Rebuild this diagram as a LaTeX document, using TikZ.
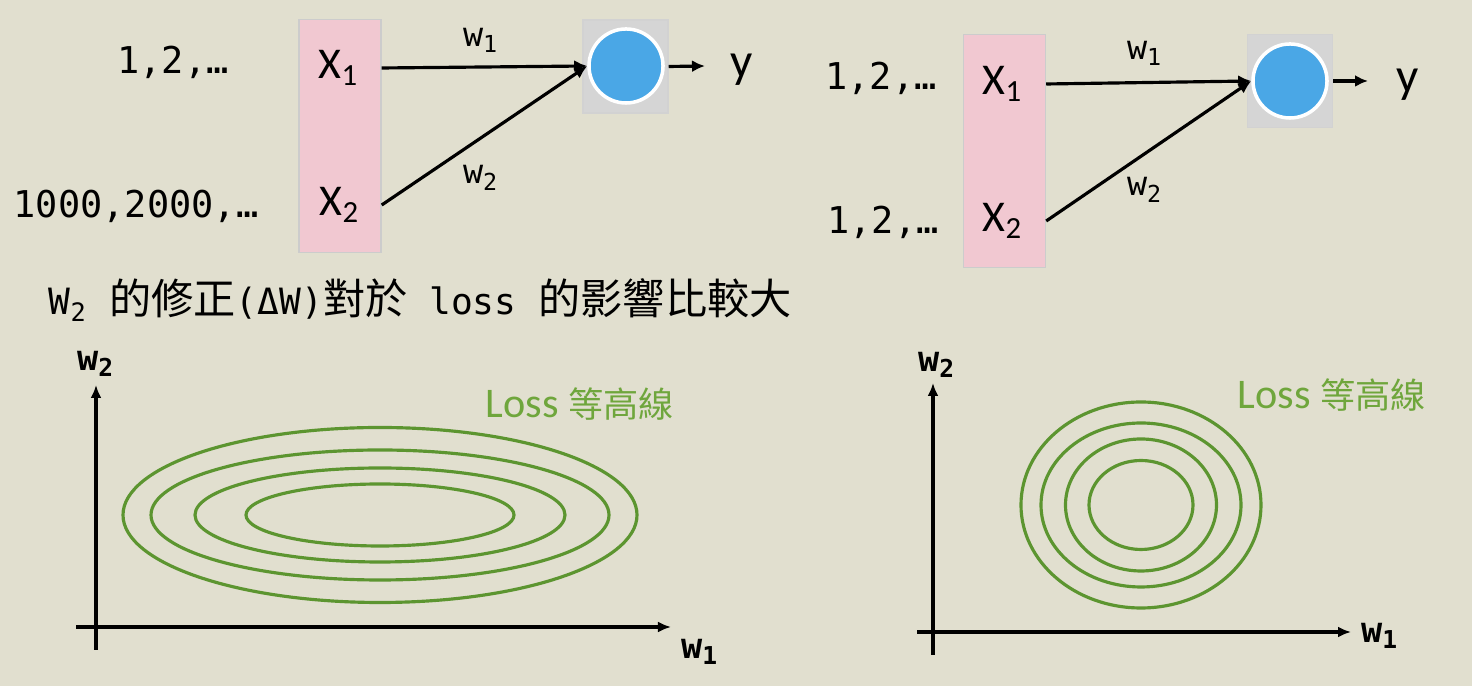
\documentclass[tikz,border=0pt]{standalone}
\usepackage{fontspec}
\setmainfont{Carlito}
\setmonofont{DejaVu Sans Mono}
\newfontfamily\cjk{Noto Sans CJK TC}
\usetikzlibrary{arrows.meta,positioning}
\definecolor{bgcol}{HTML}{E1DFCF}
\definecolor{pinkfill}{HTML}{F1C8D1}
\definecolor{cellgray}{HTML}{D5D5D5}
\definecolor{neuronblue}{HTML}{4AA7E6}
\definecolor{lossgreen}{HTML}{6FA63C}
\definecolor{contourgreen}{HTML}{5C9530}
\newcommand{\zh}[2][12]{{\cjk\fontsize{#1}{#1}\selectfont #2}}

\begin{document}
\begin{tikzpicture}[
    x=0.01cm, y=-0.01cm,
    inbox/.style={draw=gray!40, fill=pinkfill, minimum width=0.82cm, minimum height=2.33cm, inner sep=0pt},
    cell/.style={draw=gray!35, fill=cellgray, minimum width=0.85cm, minimum height=0.93cm, inner sep=0pt},
    neuron/.style={circle, draw=white, line width=1pt, fill=neuronblue, minimum size=0.74cm, inner sep=0pt},
    xlbl/.style={font=\fontsize{12.5}{14}\selectfont, inner sep=0pt},
    ylbl/.style={font=\fontsize{14}{16}\selectfont, inner sep=0pt},
    numlbl/.style={font=\ttfamily\fontsize{10.5}{12}\selectfont, inner sep=0pt},
    wlbl/.style={font=\ttfamily\fontsize{9.5}{11}\selectfont, inner sep=0pt},
    axlbl/.style={font=\ttfamily\bfseries\fontsize{10}{12}\selectfont, inner sep=0pt},
    losslbl/.style={text=lossgreen, font=\fontsize{12}{14}\selectfont, inner sep=0pt},
    arrow/.style={-{Latex[length=1.3mm,width=1.2mm]}, line width=0.9pt},
    axis/.style={-{Latex[length=1.3mm,width=1.1mm]}, line width=0.9pt},
    contour/.style={draw=contourgreen, line width=0.9pt}
]
\fill[bgcol] (0,0) rectangle (1472,686);

% left network
\node[inbox] (boxL) at (340,136) {};
\node[xlbl] (x1L) at (339,68) {X\textsubscript{1}};
\node[xlbl] (x2L) at (340,205) {X\textsubscript{2}};
\node[numlbl] (a1L) at (173,62) {1,2,…};
\node[numlbl] (a2L) at (136,206) {1000,2000,…};
\node[cell] (cellL) at (625.5,66.5) {};
\node[neuron] (nL) at (626,66) {};
\coordinate (outL) at (705,66);
\node[ylbl] (yL) at (742,70) {y};
\node[wlbl] (w1L) at (481,40) {w\textsubscript{1}};
\node[wlbl] (w2L) at (481,178) {w\textsubscript{2}};

\draw[arrow] (boxL.east |- x1L) -- (nL.west);
\draw[arrow] (boxL.east |- x2L) -- (nL.west);
\draw[arrow] (cellL.east) -- (outL);

% right network
\node[inbox] (boxR) at (1004.5,151) {};
\node[xlbl] (x1R) at (1003,84) {X\textsubscript{1}};
\node[xlbl] (x2R) at (1003,221) {X\textsubscript{2}};
\node[numlbl] (a1R) at (881,78) {1,2,…};
\node[numlbl] (a2R) at (883,222) {1,2,…};
\node[cell] (cellR) at (1290,81) {};
\node[neuron] (nR) at (1290,81) {};
\coordinate (outR) at (1368,81);
\node[ylbl] (yR) at (1408,85) {y};
\node[wlbl] (w1R) at (1145,53) {w\textsubscript{1}};
\node[wlbl] (w2R) at (1145,190) {w\textsubscript{2}};

\draw[arrow] (boxR.east |- x1R) -- (nR.west);
\draw[arrow] (boxR.east |- x2R) -- (nR.west);
\draw[arrow] (cellR.east) -- (outR);

\node[anchor=west, font=\ttfamily\fontsize{10.3}{12}\selectfont, inner sep=0pt] (title) at (48,300)
    {W\textsubscript{2} \zh{的修正}(ΔW)\zh{對於} loss \zh{的影響比較大}};

% contour plots
\draw[axis] (96,650) -- (96,385);
\draw[axis] (76,627) -- (671,627);
\node[axlbl] (w2axL) at (96,364) {w\textsubscript{2}};
\node[axlbl] (w1axL) at (700,652) {w\textsubscript{1}};
\node[losslbl] (lossL) at (580,404) {Loss \zh[10]{等高線}};
\foreach \rx/\ry in {257/87.5, 229/65, 185/47, 134/31}
    \draw[contour] (380,515) ellipse [x radius=\rx, y radius=\ry];

\draw[axis] (933,655) -- (933,383);
\draw[axis] (917,632) -- (1351,632);
\node[axlbl] (w2axR) at (937,365) {w\textsubscript{2}};
\node[axlbl] (w1axR) at (1380,636) {w\textsubscript{1}};
\node[losslbl] (lossR) at (1332,395) {Loss \zh[10]{等高線}};
\foreach \rx/\ry in {120/103, 100/82, 75.5/66, 52/44.5}
    \draw[contour] (1141,505) ellipse [x radius=\rx, y radius=\ry];
\end{tikzpicture}
\end{document}
